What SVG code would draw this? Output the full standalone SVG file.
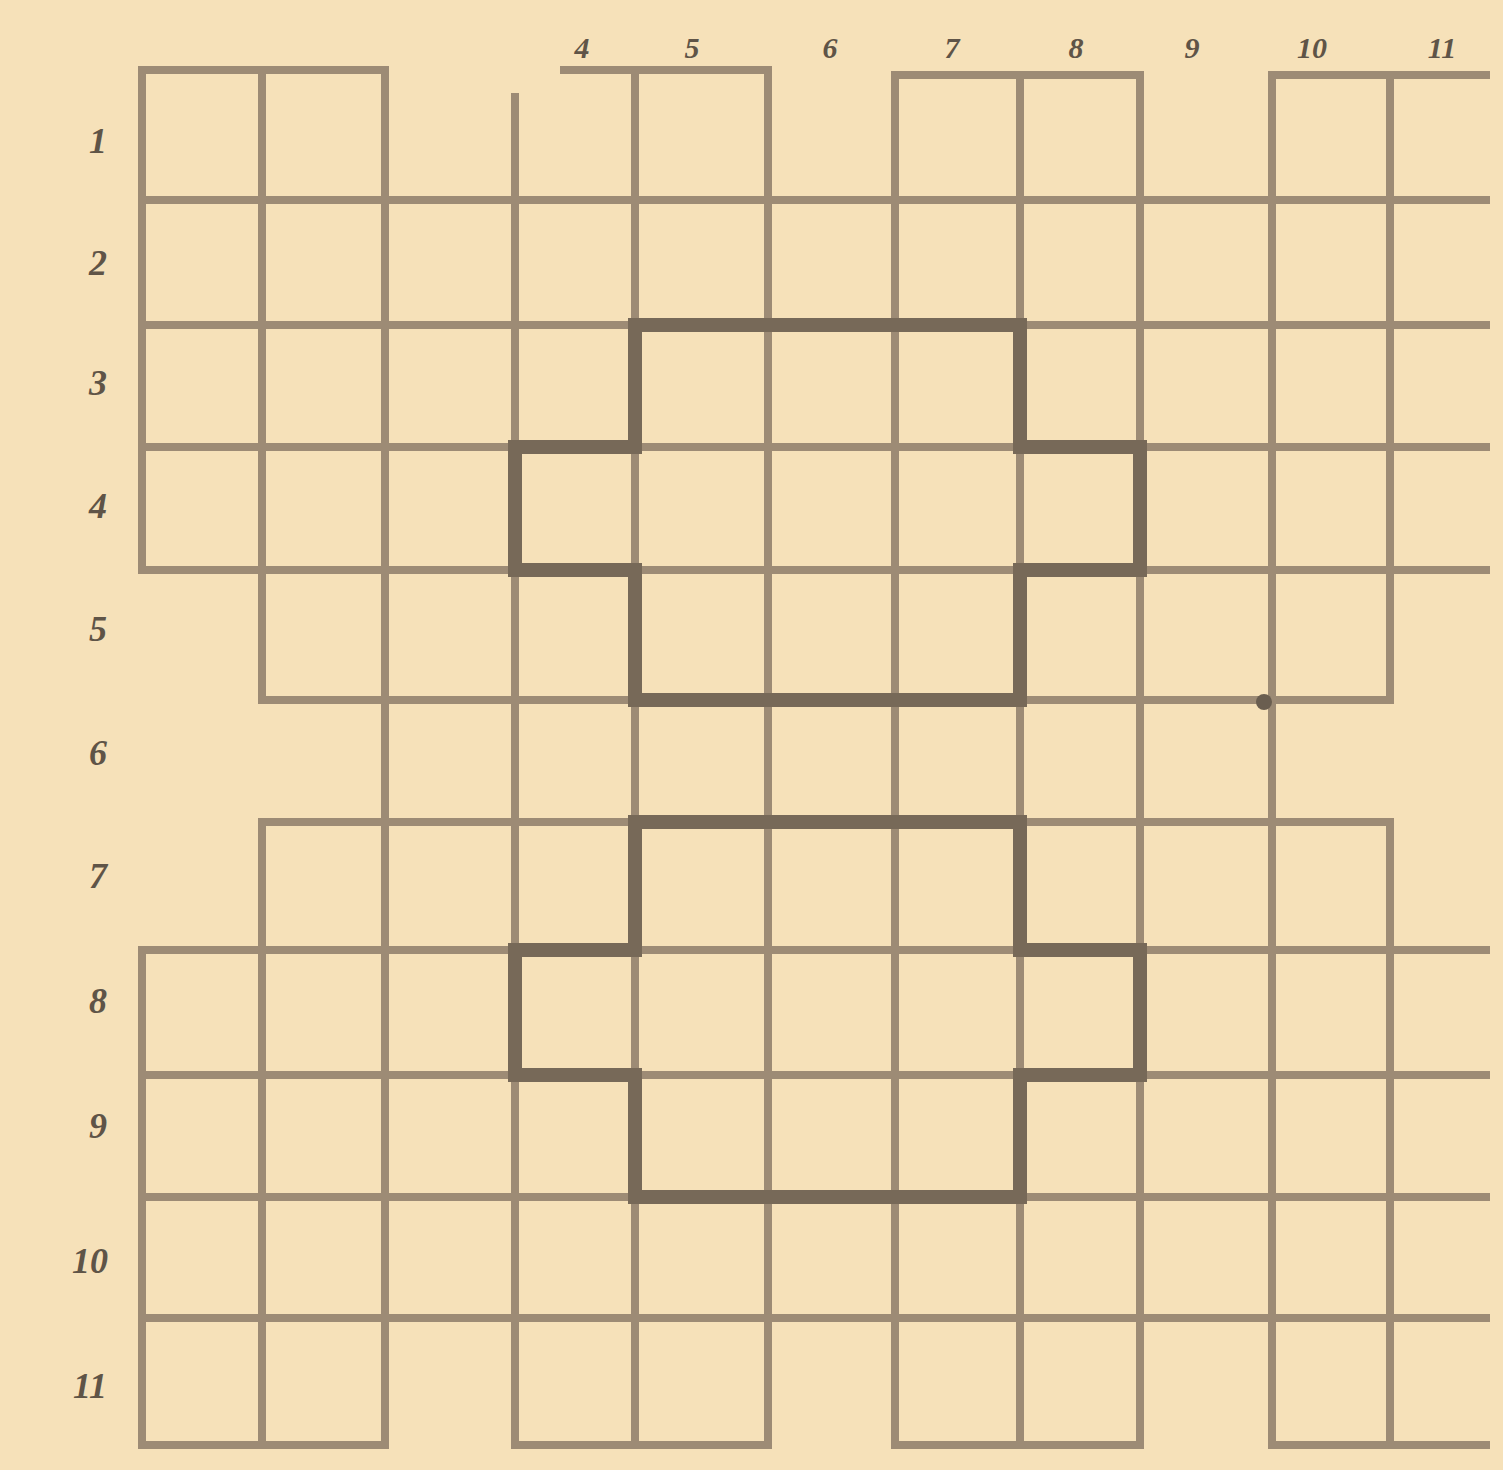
<svg xmlns="http://www.w3.org/2000/svg" width="1503" height="1470" viewBox="0 0 1503 1470">
<style>
.g{stroke:#9d8b75;stroke-width:8;fill:none;stroke-linecap:butt}
.b{stroke:#776958;stroke-width:14;fill:none;stroke-linejoin:miter}
.l{font-family:"Liberation Serif",serif;font-style:italic;font-weight:bold;font-size:36px;fill:#5f5447;text-anchor:middle}
</style>
<rect x="0" y="0" width="1503" height="1470" fill="#f6e1b9"/>
<g id="grid">
<path class="g" d="M138,70H389 M560,70H772 M891,75H1144 M1268,75H1490
M138,200H1490 M138,325H1490 M138,447H1490 M138,570H1490
M258,700H1394 M258,822H1394
M138,950H1490 M138,1075H1490 M138,1197H1490 M138,1318H1490
M138,1445H389 M511,1445H772 M891,1445H1144 M1268,1445H1490"/>
<path class="g" d="M142,66V574 M142,946V1449
M262,66V704 M262,818V1449
M385,66V1449 M515,93V1449 M635,66V1449 M768,66V1449
M895,71V1449 M1020,71V1449 M1140,71V1449 M1272,71V1449
M1390,71V704 M1390,818V1449"/>
<circle cx="1264" cy="702" r="8" fill="#6a5e50"/>
</g>
<g id="outlines">
<path class="b" d="M635,325H1020V447H1140V570H1020V700H635V570H515V447H635Z"/>
<path class="b" d="M635,822H1020V950H1140V1075H1020V1197H635V1075H515V950H635Z"/>
</g>
<g id="row-labels" class="l">
<text x="98" y="153">1</text>
<text x="98" y="275">2</text>
<text x="98" y="395">3</text>
<text x="98" y="518">4</text>
<text x="98" y="641">5</text>
<text x="98" y="765">6</text>
<text x="98" y="888">7</text>
<text x="98" y="1013">8</text>
<text x="98" y="1138">9</text>
<text x="90" y="1273">10</text>
<text x="90" y="1398">11</text>
</g>
<g id="col-labels" class="l" style="font-size:30px">
<text x="582" y="58">4</text>
<text x="692" y="58">5</text>
<text x="830" y="58">6</text>
<text x="952" y="58">7</text>
<text x="1076" y="58">8</text>
<text x="1192" y="58">9</text>
<text x="1312" y="58">10</text>
<text x="1442" y="58">11</text>
</g>
</svg>
